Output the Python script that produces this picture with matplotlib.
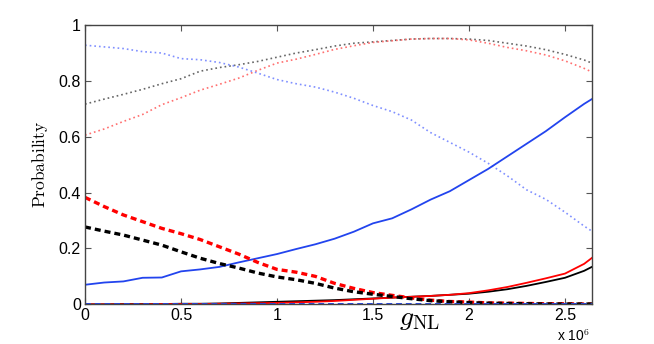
import matplotlib
matplotlib.use("Agg")
import matplotlib.pyplot as plt

# g_NL values (units of 1e6)
g_nl = [0.0, 0.1, 0.2, 0.3, 0.4, 0.5, 0.6, 0.7, 0.8, 0.9, 1.0, 1.1, 1.2, 1.3,
        1.4, 1.5, 1.6, 1.7, 1.8, 1.9, 2.0, 2.1, 2.2, 2.3, 2.4, 2.5, 2.6, 2.64]

# solid lines
blue_solid = [0.070, 0.078, 0.082, 0.095, 0.096, 0.118, 0.125, 0.134, 0.150, 0.165,
              0.180, 0.198, 0.215, 0.235, 0.260, 0.290, 0.308, 0.340, 0.375, 0.405,
              0.445, 0.485, 0.530, 0.575, 0.620, 0.670, 0.718, 0.735]
black_solid = [0.000, 0.000, 0.001, 0.001, 0.001, 0.002, 0.002, 0.003, 0.005, 0.007,
               0.009, 0.011, 0.013, 0.015, 0.018, 0.021, 0.024, 0.027, 0.030, 0.034,
               0.038, 0.045, 0.054, 0.066, 0.080, 0.095, 0.120, 0.134]
red_solid = [0.000, 0.000, 0.000, 0.000, 0.001, 0.001, 0.001, 0.002, 0.003, 0.004,
             0.005, 0.007, 0.009, 0.012, 0.016, 0.020, 0.024, 0.027, 0.030, 0.034,
             0.040, 0.050, 0.062, 0.077, 0.093, 0.110, 0.145, 0.166]

# dashed lines
red_dashed = [0.383, 0.350, 0.320, 0.296, 0.272, 0.253, 0.232, 0.206, 0.180, 0.150,
              0.125, 0.115, 0.100, 0.075, 0.057, 0.042, 0.032, 0.023, 0.015, 0.010,
              0.008, 0.005, 0.004, 0.003, 0.002, 0.002, 0.001, 0.001]
black_dashed = [0.277, 0.262, 0.248, 0.230, 0.212, 0.188, 0.165, 0.146, 0.130, 0.112,
                0.098, 0.088, 0.075, 0.058, 0.045, 0.036, 0.028, 0.020, 0.013, 0.009,
                0.006, 0.004, 0.003, 0.002, 0.001, 0.001, 0.001, 0.001]
blue_dashed = [0.0] * len(g_nl)

# dotted lines
blue_dotted = [0.928, 0.922, 0.916, 0.905, 0.900, 0.880, 0.876, 0.866, 0.850, 0.828,
               0.805, 0.790, 0.778, 0.760, 0.738, 0.712, 0.690, 0.660, 0.615, 0.580,
               0.545, 0.505, 0.460, 0.410, 0.376, 0.330, 0.280, 0.262]
gray_dotted = [0.717, 0.735, 0.752, 0.770, 0.790, 0.808, 0.835, 0.848, 0.858, 0.870,
               0.885, 0.900, 0.912, 0.925, 0.935, 0.940, 0.945, 0.950, 0.952, 0.952,
               0.950, 0.945, 0.935, 0.925, 0.912, 0.895, 0.875, 0.864]
red_dotted = [0.606, 0.628, 0.655, 0.680, 0.715, 0.740, 0.767, 0.788, 0.810, 0.838,
              0.864, 0.878, 0.895, 0.913, 0.926, 0.938, 0.944, 0.950, 0.952, 0.952,
              0.947, 0.935, 0.920, 0.908, 0.893, 0.872, 0.845, 0.832]

xticks = [0, 0.5, 1, 1.5, 2, 2.5]
xtick_labels = ['0', '0.5', '1', '1.5', '2', '2.5']
yticks = [0, 0.2, 0.4, 0.6, 0.8, 1]
ytick_labels = ['0', '0.2', '0.4', '0.6', '0.8', '1']

plt.rcParams['mathtext.fontset'] = 'cm'
plt.rcParams['font.family'] = ['Liberation Sans', 'DejaVu Sans']

fig = plt.figure(figsize=(6.54, 3.44), dpi=100)
ax = fig.add_axes([0.130, 0.1154, 0.775, 0.8116])

dot = (0, (1, 1.8))
dash = (0, (1.8, 1.2))

ax.plot(g_nl, gray_dotted, color='#666666', lw=1.2, ls=dot)
ax.plot(g_nl, red_dotted, color='#ff7070', lw=1.2, ls=dot)
ax.plot(g_nl, blue_dotted, color='#8090ff', lw=1.2, ls=dot)

ax.plot(g_nl, black_solid, color='black', lw=1.3)
ax.plot(g_nl, red_solid, color='#ff0000', lw=1.3)
ax.plot(g_nl, blue_solid, color='#2244ee', lw=1.3)

ax.plot(g_nl, red_dashed, color='#ff0000', lw=2.4, ls=dash)
ax.plot(g_nl, black_dashed, color='black', lw=2.4, ls=dash)
ax.plot(g_nl, blue_dashed, color='#2244ee', lw=1.4, ls=(0, (3, 2)))

ax.set_xlim(0, 2.64)
ax.set_ylim(0, 1)
ax.set_xticks(xticks)
ax.set_xticklabels(xtick_labels)
ax.set_yticks(yticks)
ax.set_yticklabels(ytick_labels)
ax.tick_params(direction='in', length=4, width=0.8, labelsize=11.5, color='#555555',
               top=True, right=True, pad=3)
for s in ax.spines.values():
    s.set_color('#444444')
    s.set_linewidth(1.0)

ax.set_ylabel(r'$\mathrm{Probability}$', fontsize=12.5, labelpad=6)
fig.text(0.641, 0.055, r'$g_{\mathrm{NL}}$', fontsize=20, ha='center', va='baseline')
fig.text(0.903, 0.01, r'x 10$^6$', fontsize=10, ha='right', va='baseline')

fig.savefig('out.png', dpi=100)
